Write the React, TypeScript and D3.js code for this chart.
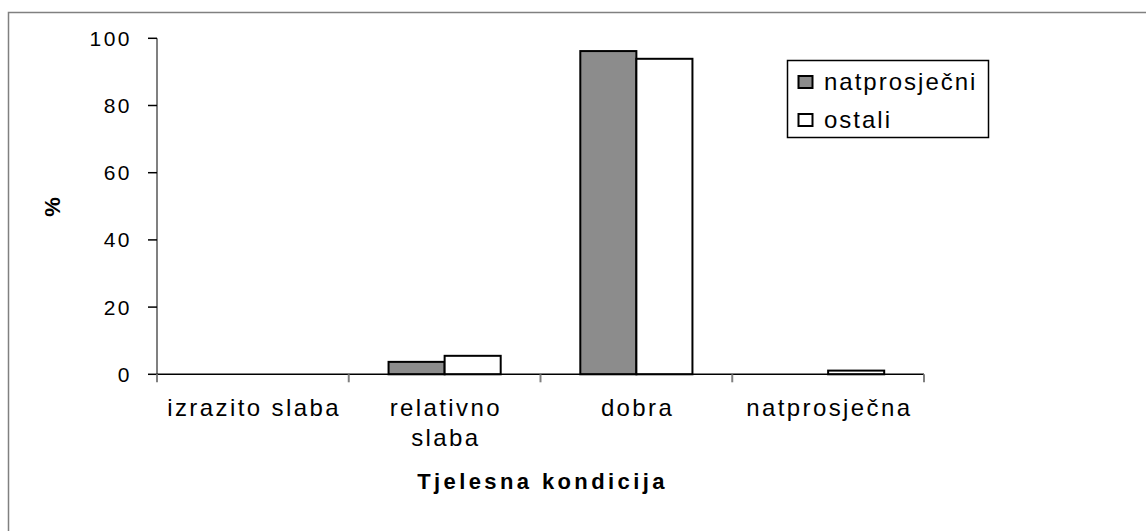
import React from "react";
import * as d3 from "d3";

const categories = ["izrazito slaba", "relativno\nslaba", "dobra", "natprosječna"];
const seriesNames = ["natprosječni", "ostali"];
const natprosjecni = [0, 3.7, 96.2, 0];
const ostali = [0, 5.5, 93.9, 1.1];
const yTicks = [0, 20, 40, 60, 80, 100];
const seriesColors = ["#8c8c8c", "#ffffff"];

const W = 1146;
const H = 531;
const left = 157;
const right = 924;
const top = 38.3;
const bottom = 374.3;
const FONT = "'Liberation Sans', Arial, sans-serif";

export default function App() {
  const x0 = d3.scaleBand<number>().domain(d3.range(categories.length)).range([left, right]).padding(0);
  const x1 = d3
    .scaleBand<number>()
    .domain(d3.range(seriesNames.length))
    .range([0, x0.bandwidth()])
    .paddingInner(0)
    .paddingOuter(0.71);
  const y = d3.scaleLinear().domain([0, 100]).range([bottom, top]);
  const series = [natprosjecni, ostali];
  const catTicks = d3.range(categories.length + 1).map((i) => left + i * x0.step());

  return (
    <svg
      width={W}
      height={H}
      style={{ position: "absolute", left: 0, top: 0, display: "block", background: "#fff" }}
    >
      <rect x={8.5} y={12.5} width={1160} height={540} fill="#fff" stroke="#808080" strokeWidth={1.5} />

      {/* bars */}
      {categories.map((c, i) =>
        series.map((vals, s) => {
          const v = vals[i];
          if (v <= 0) return null;
          const bx = (x0(i) as number) + (x1(s) as number);
          return (
            <rect
              key={`${i}-${s}`}
              x={bx}
              y={y(v)}
              width={x1.bandwidth()}
              height={bottom - y(v)}
              fill={seriesColors[s]}
              stroke="#000"
              strokeWidth={2}
            />
          );
        })
      )}

      {/* y axis */}
      <line x1={left} x2={left} y1={top} y2={bottom} stroke="#808080" strokeWidth={2} />
      {yTicks.map((t) => (
        <g key={t}>
          <line x1={left - 9} x2={left} y1={y(t)} y2={y(t)} stroke="#000" strokeWidth={1.5} />
          <text
            x={132}
            y={y(t) + 7.5}
            textAnchor="end"
            fontFamily={FONT}
            fontSize={21}
            letterSpacing={2.5}
            fill="#000"
          >
            {t}
          </text>
        </g>
      ))}

      {/* x axis */}
      <line x1={left} x2={right} y1={bottom} y2={bottom} stroke="#000" strokeWidth={1.5} />
      {catTicks.map((tx, i) => (
        <line key={i} x1={tx} x2={tx} y1={bottom} y2={bottom + 8} stroke="#808080" strokeWidth={2} />
      ))}
      {categories.map((c, i) => {
        const cx = (x0(i) as number) + x0.bandwidth() / 2;
        return (
          <text
            key={c}
            x={cx}
            y={416}
            textAnchor="middle"
            fontFamily={FONT}
            fontSize={24}
            letterSpacing={2.4}
            fill="#000"
          >
            {c.split("\n").map((ln, k) => (
              <tspan key={k} x={cx + 1.2} dy={k === 0 ? 0 : 30}>
                {ln}
              </tspan>
            ))}
          </text>
        );
      })}

      {/* axis titles */}
      <text
        x={(left + right) / 2 + 2}
        y={489}
        textAnchor="middle"
        fontFamily={FONT}
        fontSize={22}
        fontWeight="bold"
        letterSpacing={3.4}
        fill="#000"
      >
        Tjelesna kondicija
      </text>
      <text
        transform={`translate(52,207) rotate(-90)`}
        textAnchor="middle"
        dominantBaseline="central"
        fontFamily={FONT}
        fontSize={22}
        fontWeight="bold"
        fill="#000"
      >
        %
      </text>

      {/* legend */}
      <rect x={787.5} y={60.5} width={201} height={77} fill="#fff" stroke="#000" strokeWidth={1.5} />
      {seriesNames.map((n, s) => {
        const cy = 82 + s * 38;
        return (
          <g key={n}>
            <rect x={798.5} y={cy - 6} width={14} height={12} fill={seriesColors[s]} stroke="#000" strokeWidth={2} />
            <text
              x={824}
              y={cy + 8}
              fontFamily={FONT}
              fontSize={24}
              letterSpacing={2}
              fill="#000"
            >
              {n}
            </text>
          </g>
        );
      })}
    </svg>
  );
}
